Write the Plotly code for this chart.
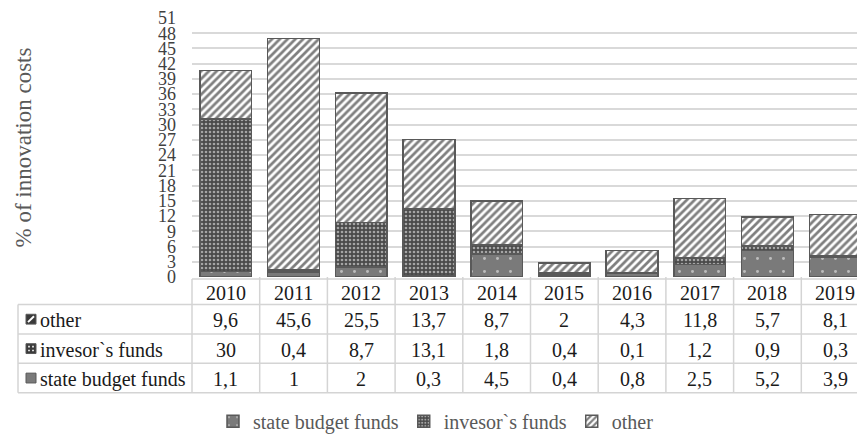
import plotly.graph_objects as go

years = ["2010", "2011", "2012", "2013", "2014", "2015", "2016", "2017", "2018", "2019"]
state_budget = [1.1, 1, 2, 0.3, 4.5, 0.4, 0.8, 2.5, 5.2, 3.9]
investor = [30, 0.4, 8.7, 13.1, 1.8, 0.4, 0.1, 1.2, 0.9, 0.3]
other = [9.6, 45.6, 25.5, 13.7, 8.7, 2, 4.3, 11.8, 5.7, 8.1]
y_ticks = list(range(0, 52, 3))

FONT = "Times New Roman, Liberation Serif, serif"
W, H = 857, 441
PL, PR = 192, 869   # plot area left/right in px (right side is cut by the window)
PT, PB = 18, 282    # plot area top/bottom in px


def px_x(p):
    return (p - PL) / (W - PL)


def px_y(p):
    return (PB - p) / (PB - PT)


def fmt(v):
    return ("%g" % v).replace(".", ",")


series = [
    ("state budget funds", state_budget, dict(shape=".", fgcolor="#ffffff", bgcolor="#7a7a7a", size=13, solidity=0.04)),
    ("invesor`s funds", investor, dict(shape=".", fgcolor="#ffffff", bgcolor="#4a4a4a", size=4, solidity=0.35)),
    ("other", other, dict(shape="/", fgcolor="#000000", bgcolor="#ffffff", size=5.5, solidity=0.5)),
]

fig = go.Figure()
for name, vals, pat in series:
    fig.add_trace(go.Bar(
        name=name, x=years, y=vals,
        marker=dict(color=pat["bgcolor"], pattern=pat,
                    line=dict(color="#595959", width=1.5)),
    ))

ncat = len(years)
x_right = -0.5 + ncat * (W - PL) / (PR - PL)

fig.update_layout(
    width=W, height=H,
    margin=dict(l=PL, r=0, t=PT, b=H - PB),
    barmode="stack", bargap=0.236,
    plot_bgcolor="white", paper_bgcolor="white",
    font=dict(family=FONT, size=18, color="#404040"),
    showlegend=True,
    legend=dict(orientation="h", x=px_x(436), xanchor="center", y=px_y(429), yanchor="middle",
                font=dict(family=FONT, size=20, color="#595959"), traceorder="normal",
                itemwidth=30),
    xaxis=dict(type="category", range=[-0.5, x_right], showticklabels=False, showgrid=False, zeroline=False,
               showline=False, ticks=""),
    yaxis=dict(range=[0, 51], tickvals=y_ticks, showgrid=True, gridcolor="#d9d9d9", gridwidth=1.5,
               zeroline=False, showline=False, ticks="", ticklabelstandoff=15,
               tickfont=dict(family=FONT, size=18, color="#404040")),
)

# Y axis title
fig.add_annotation(text="% of innovation costs", xref="paper", yref="paper",
                   x=px_x(23), y=0.5, xanchor="center", yanchor="middle", textangle=-90, showarrow=False,
                   font=dict(family=FONT, size=23, color="#595959"))

# Data table
row_top = [284, 310, 340, 370]
row_bot = 400
line_col = "#d4d4d4"
fig.add_shape(type="line", xref="paper", yref="paper", x0=0, x1=1, y0=px_y(row_top[0]), y1=px_y(row_top[0]),
              line=dict(color=line_col, width=1.5))
for yy in row_top[1:] + [row_bot]:
    fig.add_shape(type="line", xref="paper", yref="paper", x0=px_x(18), x1=1, y0=px_y(yy), y1=px_y(yy),
                  line=dict(color=line_col, width=1.5))
fig.add_shape(type="line", xref="paper", yref="paper", x0=px_x(18), x1=px_x(18), y0=px_y(row_top[1]), y1=px_y(row_bot),
              line=dict(color=line_col, width=1.5))
fig.add_shape(type="line", xref="paper", yref="paper", x0=0, x1=0, y0=px_y(row_top[0]), y1=px_y(row_bot),
              line=dict(color=line_col, width=1.5))
for i in range(1, ncat):
    fig.add_shape(type="line", xref="x", yref="paper", x0=i - 0.5, x1=i - 0.5,
                  y0=px_y(PB), y1=px_y(row_bot), line=dict(color=line_col, width=1.5))

# header
for i, yr in enumerate(years):
    fig.add_annotation(text=yr, xref="x", yref="paper", x=i, y=px_y((row_top[0] + row_top[1]) / 2 + 1),
                       xanchor="center", yanchor="middle",
                       showarrow=False, font=dict(family=FONT, size=20, color="#1a1a1a"))

rows = [("other", other), ("invesor`s funds", investor), ("state budget funds", state_budget)]
icon_fill = {"other": "#3a3a3a", "invesor`s funds": "#3a3a3a", "state budget funds": "#7a7a7a"}
for r, (name, vals) in enumerate(rows):
    top = row_top[r + 1]
    bot = row_top[r + 2] if r + 2 < len(row_top) else row_bot
    cy = (top + bot) / 2
    for i, v in enumerate(vals):
        fig.add_annotation(text=fmt(v), xref="x", yref="paper", x=i, y=px_y(cy + 1),
                           xanchor="center", yanchor="middle",
                           showarrow=False, font=dict(family=FONT, size=20, color="#1a1a1a"))
    fig.add_annotation(text=name, xref="paper", yref="paper", x=px_x(38), y=px_y(cy + 1),
                       xanchor="left", yanchor="middle",
                       showarrow=False, font=dict(family=FONT, size=20, color="#1a1a1a"))
    fig.add_shape(type="rect", xref="paper", yref="paper", x0=px_x(26), x1=px_x(36),
                  y0=px_y(cy - 5), y1=px_y(cy + 5), fillcolor=icon_fill[name],
                  line=dict(color="#595959", width=1))
    if name == "other":
        fig.add_shape(type="line", xref="paper", yref="paper", x0=px_x(28), x1=px_x(34),
                      y0=px_y(cy + 3), y1=px_y(cy - 3), line=dict(color="white", width=2))
    if name == "invesor`s funds":
        for dx in (29, 33):
            for dy in (-2, 2):
                fig.add_shape(type="rect", xref="paper", yref="paper", x0=px_x(dx - 0.8), x1=px_x(dx + 0.8),
                              y0=px_y(cy + dy - 0.8), y1=px_y(cy + dy + 0.8), fillcolor="white", line=dict(width=0))

fig.write_html("out.html")
